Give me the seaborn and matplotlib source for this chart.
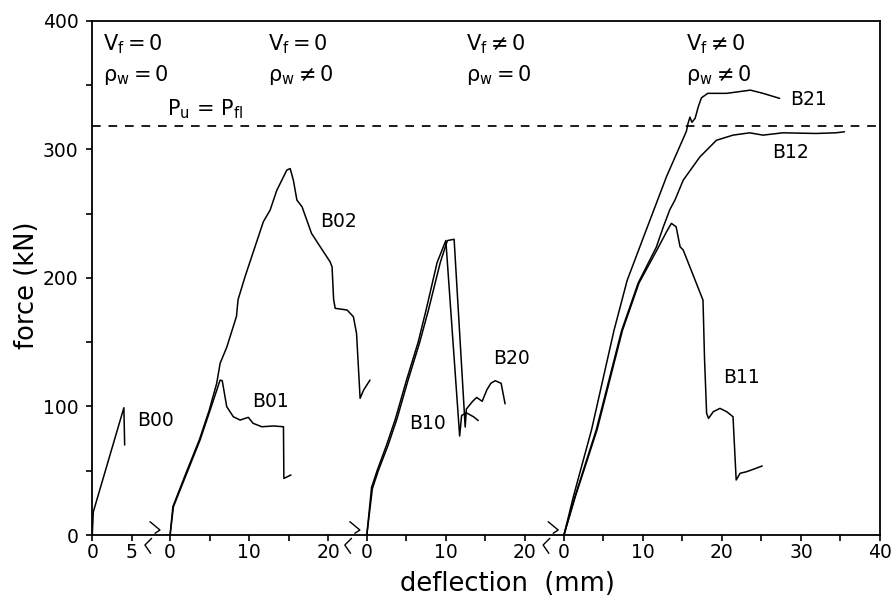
import numpy as np
import pandas as pd
import matplotlib
matplotlib.use("Agg")
import matplotlib.pyplot as plt
import matplotlib.transforms as mtransforms
import seaborn as sns

# origin of each sub-axis on the shared (broken) deflection axis, mm
seg_offsets = [0.0, 9.85, 34.75, 59.7]
seg_major = [[0, 5], [0, 10, 20], [0, 10, 20], [0, 10, 20, 30, 40]]
seg_minor = [[], [5, 15], [5, 15], [5, 15, 25, 35]]
break_pos = [7.3, 32.6, 57.7]

p_fl = 318

# load-deflection curves, local deflection (mm) / force (kN)
b00_x = [0, 0.13, 4.0, 4.1]
b00_y = [0, 18, 99, 70]

b01_x = [0, 0.42, 2.11, 3.8, 5.06, 6.33, 6.6, 7.17, 8.0, 8.86, 9.49, 9.9, 10.5, 11.6, 13.1, 14.35, 14.4, 15.3]
b01_y = [0, 22, 48, 74, 97, 120.5, 120, 99.8, 92, 89.4, 90.7, 91.5, 86.9, 84.2, 84.8, 84.2, 44, 46.7]

b02_x = [0, 0.35, 2.0, 3.7, 4.95, 5.9, 6.33, 7.17, 8.4, 8.6, 9.49, 11.8, 12.66, 13.5, 14.77, 15.2, 15.6, 16.05,
         16.7, 17.9, 19.0, 20.25, 20.5, 20.7, 20.9, 22.4, 23.2, 23.6, 24.05, 24.5, 25.3]
b02_y = [0, 22, 48, 74, 97, 118, 133.5, 146, 170, 183, 201, 243.6, 252.7, 268, 283.8, 285, 276, 260.5,
         255.3, 234.6, 224.2, 212.5, 208.6, 183, 176.3, 175, 169.8, 156.8, 106.3, 112.8, 120.5]

b10_x = [0, 0.6, 1.3, 2.5, 3.6, 5.0, 6.5, 7.5, 8.9, 10.0, 11.75, 12.0, 12.6, 13.5, 14.1]
b10_y = [0, 37, 50, 70, 90, 120, 150, 175, 212, 229, 77, 93, 95, 92, 89]

b20_x = [0, 0.7, 1.45, 2.7, 3.8, 5.2, 6.7, 7.8, 9.3, 10.2, 11.05, 12.45, 12.6, 13.4, 13.9, 14.6, 15.2,
         15.7, 16.25, 17.0, 17.5]
b20_y = [0, 36, 50, 70, 90, 120, 150, 175, 212, 229, 230, 84, 98, 104, 107, 104, 113,
         118, 120, 118, 102]

b21_x = [0, 1.2, 3.5, 6.33, 8.0, 10.4, 13.0, 15.5, 15.7, 15.95, 16.2, 16.6, 17.0, 17.4, 18.2, 20.6, 23.6, 25.2, 27.3]
b21_y = [0, 30, 82, 159, 198, 237, 279, 314, 320, 325, 321, 324, 333, 340, 343.5, 343.5, 346, 343.5, 339.6]

b12_x = [0, 1.4, 4.1, 7.3, 9.4, 11.7, 12.6, 13.4, 14.05, 15.1, 17.2, 19.3, 21.4, 23.5, 25.2, 27.7, 31.9, 34.4, 35.5]
b12_y = [0, 30, 82, 159, 196, 224, 240, 253, 260.5, 276, 294, 307, 311, 312.8, 311, 312.8, 312.3, 312.8, 313.6]

b11_x = [0, 1.45, 4.2, 7.4, 9.5, 11.8, 13.0, 13.6, 14.2, 14.7, 15.1, 17.6, 17.8, 18.06, 18.3, 18.9, 19.75,
         20.6, 21.4, 21.8, 22.3, 23.1, 23.7, 25.1]
b11_y = [0, 30, 82, 159, 196, 222, 236, 242.4, 239.7, 224.2, 221.6, 182.7, 136, 94.6, 90.7, 95.9, 98.5,
         95.9, 92, 42.8, 48, 49.2, 50.5, 53.7]

curves = {
    "B00": (0, b00_x, b00_y),
    "B01": (1, b01_x, b01_y),
    "B02": (1, b02_x, b02_y),
    "B10": (2, b10_x, b10_y),
    "B20": (2, b20_x, b20_y),
    "B21": (3, b21_x, b21_y),
    "B12": (3, b12_x, b12_y),
    "B11": (3, b11_x, b11_y),
}

frames = []
for name, (seg, xs, ys) in curves.items():
    frames.append(pd.DataFrame({"specimen": name,
                                "deflection": np.array(xs) + seg_offsets[seg],
                                "force": ys}))
df = pd.concat(frames, ignore_index=True)

sns.set_style("ticks")
plt.rcParams["font.family"] = ["DejaVu Sans"]
plt.rcParams["mathtext.default"] = "regular"
plt.rcParams["text.color"] = "black"
plt.rcParams["axes.labelcolor"] = "black"
plt.rcParams["xtick.color"] = "black"
plt.rcParams["ytick.color"] = "black"

fig = plt.figure(figsize=(8.95, 6.07), dpi=100)
ax = fig.add_axes([0.1031, 0.1186, 0.8801, 0.8473])

sns.lineplot(data=df, x="deflection", y="force", hue="specimen",
             palette={k: "black" for k in curves}, sort=False, estimator=None,
             legend=False, linewidth=1.1, ax=ax)

ax.axhline(p_fl, color="black", linestyle=(0, (5, 4.5)), linewidth=1.25)

ax.set_xlim(0, 99.7)
ax.set_ylim(0, 400)

major_pos, major_lab, minor_pos = [], [], []
for off, maj, mnr in zip(seg_offsets, seg_major, seg_minor):
    major_pos += [off + v for v in maj]
    major_lab += [str(v) for v in maj]
    minor_pos += [off + v for v in mnr]
ax.set_xticks(major_pos)
ax.set_xticklabels(major_lab)
ax.set_xticks(minor_pos, minor=True)
ax.set_yticks([0, 100, 200, 300, 400])
ax.set_yticks([50, 150, 250, 350], minor=True)
ax.tick_params(which="both", direction="out", length=4, width=1.2, colors="black",
               labelsize=13.5)
ax.tick_params(axis="x", pad=2)
ax.tick_params(axis="y", pad=6)

for sp in ax.spines.values():
    sp.set_linewidth(1.3)
    sp.set_color("black")

ax.set_xlabel("deflection  (mm)", fontsize=18.5)
ax.set_ylabel("force (kN)", fontsize=18.5)
ax.xaxis.set_label_coords(0.527, -0.07)
ax.yaxis.set_label_coords(-0.066, 0.486)

# axis break marks
trans = mtransforms.blended_transform_factory(ax.transData, ax.transAxes)
px_x, px_y = 1 / 7.88, 1 / 514.0
for xb in break_pos:
    up = [(0, 13.3), (10, 5), (5, 1.7)]
    lo = [(1.7, -3.3), (-5, -10), (0.7, -18.3)]
    for shape in (up, lo):
        ax.plot([xb + dx * px_x for dx, _ in shape], [dy * px_y for _, dy in shape],
                color="black", linewidth=1.0, transform=trans, clip_on=False)

# test conditions
cond_x = [1.35, 22.2, 47.3, 75.2]
cond_v = ["$V_f = 0$", "$V_f = 0$", r"$V_f \neq 0$", r"$V_f \neq 0$"]
cond_r = [r"$\rho_w = 0$", r"$\rho_w \neq 0$", r"$\rho_w = 0$", r"$\rho_w \neq 0$"]
for x, v, r in zip(cond_x, cond_v, cond_r):
    ax.text(x, 382, v, fontsize=15, ha="left", va="center")
    ax.text(x, 358, r, fontsize=15, ha="left", va="center")
ax.text(9.4, 331, "$P_u$ = $P_{fl}$", fontsize=15, ha="left", va="center")

labels = {"B00": (8.06, 89.4), "B01": (22.5, 103.7), "B02": (31.2, 244), "B10": (42.4, 87),
          "B20": (53.1, 137), "B21": (90.6, 339), "B12": (88.4, 297.5), "B11": (82.2, 122.5)}
for name, (x, y) in labels.items():
    ax.text(x, y, name, fontsize=13.5, ha="center", va="center")

fig.savefig("out.png", dpi=100)
